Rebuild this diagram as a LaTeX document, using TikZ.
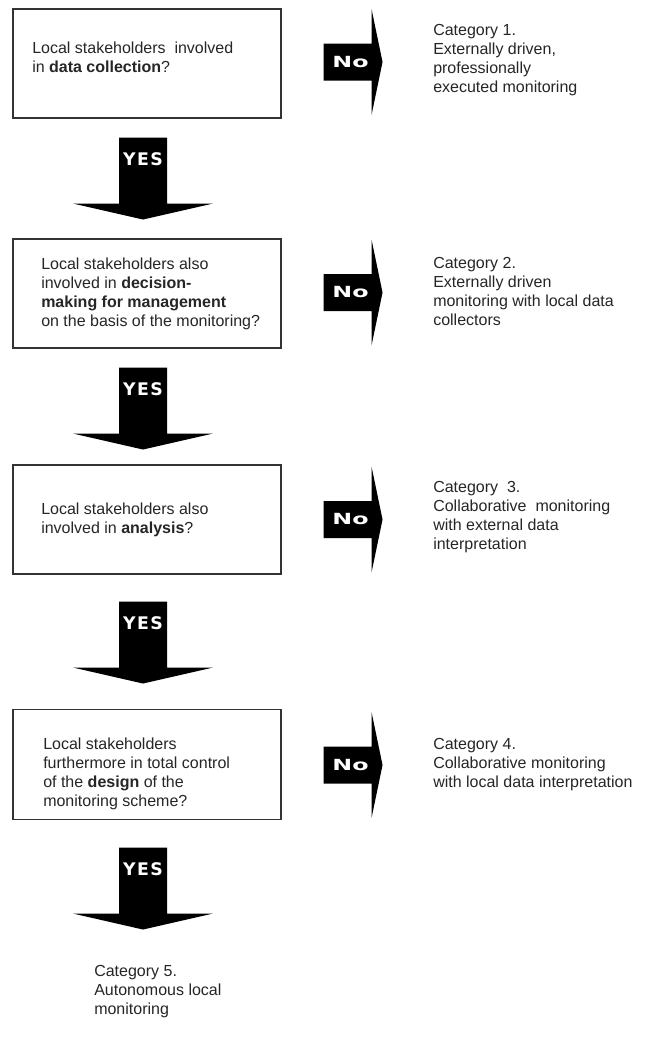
\documentclass[tikz,border=0pt]{standalone}
\usepackage{fontspec}
\setmainfont{Liberation Sans}
\newfontfamily\lblfont{DejaVu Sans}
\usetikzlibrary{calc}
\begin{document}
\begin{tikzpicture}[x=0.75pt,y=-0.75pt,
  qbox/.style={draw=black!80, line width=0.8pt, minimum width=201pt, minimum height=81.75pt, inner sep=0pt},
  qtext/.style={anchor=west, align=left, inner sep=0pt, font=\fontsize{12}{14.25}\selectfont, text=black!85},
  yeslbl/.style={inner sep=0pt, text=white, font=\lblfont\bfseries\fontsize{13}{13}\selectfont},
  nolbl/.style={inner sep=0pt, text=white, font=\lblfont\bfseries\fontsize{11.5}{11.5}\selectfont},
  yesarrow/.pic={\fill[black] (-24,0) -- (24,0) -- (24,66) -- (70,66) -- (0,82) -- (-70,66) -- (-24,66) -- cycle;
     \node[yeslbl] (-lbl) at (0,22) {Y\kern1pt E\kern1pt S};},
  noarrow/.pic={\fill[black] (-24,-18.5) -- (24,-18.5) -- (24,-53) -- (35,0) -- (24,53) -- (24,18.5) -- (-24,18.5) -- cycle;
     \node[nolbl] (-lbl) at (3,0) {\scalebox{1.55}[1]{No}};}
]
\useasboundingbox (0,0) rectangle (662,1053);
\fill[white] (0,0) rectangle (662,1053);

% question boxes
\node[qbox] (q1) at (147,63.5) {};
\node[qbox] (q2) at (147,293.5) {};
\node[qbox] (q3) at (147,519.5) {};
\node[qbox, minimum height=82.5pt] (q4) at (147,764.5) {};

\node[qtext] (t1) at (32,57.5) {Local stakeholders\ \ involved\\in \textbf{data collection}?};
\node[qtext] (t2) at (41,294) {Local stakeholders also\\involved in \textbf{decision-}\\\textbf{making for management}\\on the basis of the monitoring?};
\node[qtext] (t3) at (41,520) {Local stakeholders also\\involved in \textbf{analysis}?};
\node[qtext] (t4) at (43,773.5) {Local stakeholders\\furthermore in total control\\of the \textbf{design} of the\\monitoring scheme?};

% categories
\node[qtext] (c1) at (433,60.5) {Category 1.\\Externally driven,\\professionally\\executed monitoring};
\node[qtext] (c2) at (433,291.5) {Category 2.\\Externally driven\\monitoring with local data\\collectors};
\node[qtext] (c3) at (433,517) {Category\ \ 3.\\Collaborative\ \ monitoring\\with external data\\interpretation};
\node[qtext] (c4) at (433,765) {Category 4.\\Collaborative monitoring\\with local data interpretation};
\node[qtext] (c5) at (94,992) {Category 5.\\Autonomous local\\monitoring};

% NO arrows
\path (q1.east) ++(66,-1.5) pic (n1) {noarrow};
\path (q2.east) ++(66,-1) pic (n2) {noarrow};
\path (q3.east) ++(66,0) pic (n3) {noarrow};
\path (q4.east) ++(66,0.5) pic (n4) {noarrow};

% YES arrows
\path (q1.south) ++(-4,19) pic (y1) {yesarrow};
\path (q2.south) ++(-4,19) pic (y2) {yesarrow};
\path (q3.south) ++(-4,27) pic (y3) {yesarrow};
\path (q4.south) ++(-4,27.5) pic (y4) {yesarrow};
\end{tikzpicture}
\end{document}
